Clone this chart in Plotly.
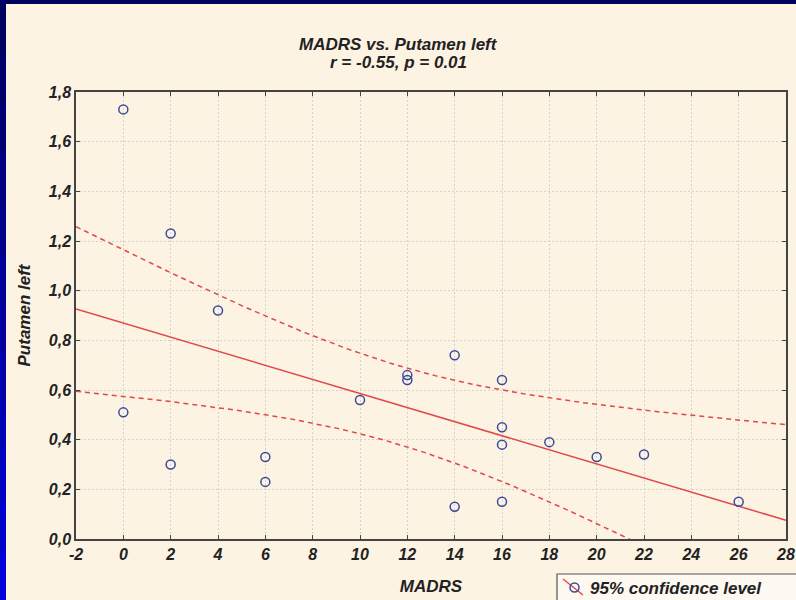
import numpy as np
import plotly.graph_objects as go

madrs = [0, 0, 2, 2, 4, 6, 6, 10, 12, 12, 14, 14, 16, 16, 16, 16, 18, 20, 22, 26]
putamen = [1.73, 0.51, 1.23, 0.30, 0.92, 0.33, 0.23, 0.56, 0.66, 0.64, 0.74, 0.13,
           0.64, 0.45, 0.38, 0.15, 0.39, 0.33, 0.34, 0.15]
x_ticks = list(range(-2, 29, 2))
y_ticks = [0.0, 0.2, 0.4, 0.6, 0.8, 1.0, 1.2, 1.4, 1.6, 1.8]
y_tick_labels = ["0,0", "0,2", "0,4", "0,6", "0,8", "1,0", "1,2", "1,4", "1,6", "1,8"]
title_lines = ["MADRS vs. Putamen left", "r = -0.55, p = 0.01"]
legend_label = "95% confidence level"
t_crit = 2.101  # t(0.975, df=18)

x = np.array(madrs, float)
y = np.array(putamen, float)
n = len(x)
slope, intercept = np.polyfit(x, y, 1)
resid = y - (slope * x + intercept)
s = np.sqrt(np.sum(resid ** 2) / (n - 2))
sxx = np.sum((x - x.mean()) ** 2)
xg = np.linspace(-2, 28, 121)
yfit = slope * xg + intercept
half = t_crit * s * np.sqrt(1 / n + (xg - x.mean()) ** 2 / sxx)

FONT = "Liberation Sans"
RED = "#e0484a"
BLUE = "#3a4a9a"
TXT = "#222222"

fig = go.Figure()
fig.add_trace(go.Scatter(x=xg, y=yfit + half, mode="lines",
                         line=dict(color=RED, width=1.5, dash="5px,4px"), showlegend=False))
fig.add_trace(go.Scatter(x=xg, y=yfit - half, mode="lines",
                         line=dict(color=RED, width=1.5, dash="5px,4px"), showlegend=False))
fig.add_trace(go.Scatter(x=xg, y=yfit, mode="lines",
                         line=dict(color=RED, width=1.5), showlegend=False))
fig.add_trace(go.Scatter(x=madrs, y=putamen, mode="markers",
                         marker=dict(symbol="circle-open", size=9, color=BLUE,
                                     line=dict(width=1.5, color=BLUE)),
                         showlegend=False))

W, H = 796, 600
PL, PR, PT, PB = 76, 786, 92, 539  # plot area pixel edges
def fx(v): return v / W
def fy(v): return (H - v) / H

shapes = [
    dict(type="rect", xref="paper", yref="paper", x0=fx(6), x1=fx(800), y0=fy(4), y1=fy(604),
         fillcolor="#fdf3e3", line=dict(width=0), layer="below"),
]
nseg = 12
for i in range(nseg):
    t = i / (nseg - 1)
    b = int(96 + t * (215 - 96))
    y0 = 4 + i * (596 / nseg)
    shapes.append(dict(type="rect", xref="paper", yref="paper", x0=fx(-5), x1=fx(6),
                       y0=fy(y0), y1=fy(y0 + 596 / nseg + 1),
                       fillcolor=f"rgb(0,0,{b})", line=dict(width=0), layer="below"))
# legend box (extends past the bottom/right edge as in the reference)
shapes.append(dict(type="rect", xref="paper", yref="paper", x0=fx(557), x1=fx(810),
                   y0=fy(574), y1=fy(612), fillcolor="#fdf8f0",
                   line=dict(color="#555555", width=1.2)))
shapes.append(dict(type="line", xref="paper", yref="paper", x0=fx(563), y0=fy(579),
                   x1=fx(583), y1=fy(595), line=dict(color=RED, width=1.5)))
shapes.append(dict(type="circle", xref="paper", yref="paper", x0=fx(570), x1=fx(579),
                   y0=fy(583), y1=fy(592), fillcolor="rgba(0,0,0,0)",
                   line=dict(color=BLUE, width=1.5)))

tickfont = dict(family=FONT, size=16, style="italic", weight="bold", color=TXT)
titlefont = dict(family=FONT, size=17, style="italic", weight="bold", color=TXT)

annotations = [
    dict(text=legend_label, xref="paper", yref="paper", x=fx(588), y=fy(588),
         xanchor="left", yanchor="middle", showarrow=False, font=titlefont),
    dict(text=title_lines[0], xref="paper", yref="paper", x=fx(398), y=fy(44),
         xanchor="center", yanchor="middle", showarrow=False, font=titlefont),
    dict(text=title_lines[1], xref="paper", yref="paper", x=fx(398), y=fy(63),
         xanchor="center", yanchor="middle", showarrow=False, font=titlefont),
]

fig.update_layout(
    width=W, height=H,
    margin=dict(l=0, r=0, t=0, b=0),
    paper_bgcolor="#00005e",
    plot_bgcolor="white",
    shapes=shapes,
    showlegend=False,
    annotations=annotations,
    font=dict(family=FONT, color=TXT),
    xaxis=dict(domain=[fx(PL), fx(PR)], range=[-2, 28], tickvals=x_ticks,
               ticktext=[str(v) for v in x_ticks],
               showgrid=True, gridcolor="#d2d2d2", griddash="2px,2px", gridwidth=1,
               showline=True, linecolor="#444444", linewidth=1.5, mirror="ticks",
               ticks="inside", ticklen=4, tickcolor="#444444", zeroline=False,
               tickfont=tickfont, automargin=False,
               title=dict(text="MADRS", standoff=18, font=titlefont)),
    yaxis=dict(domain=[fy(PB), fy(PT)], range=[0, 1.8], tickvals=y_ticks, ticktext=y_tick_labels,
               showgrid=True, gridcolor="#d2d2d2", griddash="2px,2px", gridwidth=1,
               showline=True, linecolor="#444444", linewidth=1.5, mirror="ticks",
               ticks="inside", ticklen=4, tickcolor="#444444", zeroline=False,
               tickfont=tickfont, automargin=False,
               title=dict(text="Putamen left", standoff=14, font=titlefont)),
)

fig.write_html("out.html")
